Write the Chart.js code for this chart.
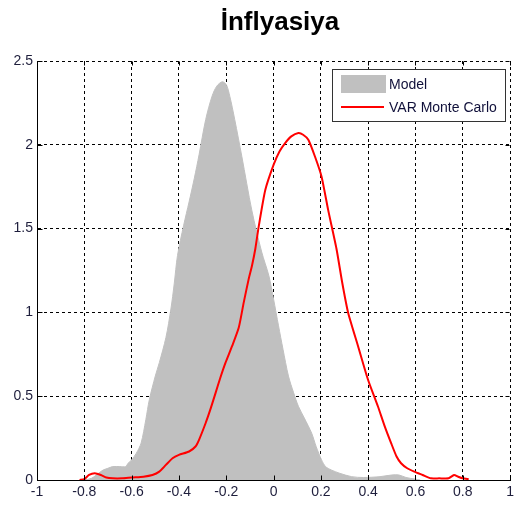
<!DOCTYPE html>
<html>
<head>
<meta charset="utf-8">
<script src="https://cdn.jsdelivr.net/npm/chart.js@4.4.1/dist/chart.umd.min.js"></script>
<style>
  html, body { margin: 0; padding: 0; background: #ffffff; }
  #c { display: block; }
</style>
</head>
<body>
<canvas id="c" width="518" height="508"></canvas>
<script>
// ---------- DATA ----------
const chartTitle = "İnflyasiya";
const seriesNames = ["Model", "VAR Monte Carlo"];

const xTickValues = [-1, -0.8, -0.6, -0.4, -0.2, 0, 0.2, 0.4, 0.6, 0.8, 1];
const xTickLabels = ["-1", "-0.8", "-0.6", "-0.4", "-0.2", "0", "0.2", "0.4", "0.6", "0.8", "1"];
const yTickValues = [0, 0.5, 1, 1.5, 2, 2.5];
const yTickLabels = ["0", "0.5", "1", "1.5", "2", "2.5"];

// Model (grey area)
const modelX = [-0.80, -0.77, -0.74, -0.72, -0.70, -0.68, -0.65, -0.625, -0.615, -0.60, -0.58, -0.56, -0.54, -0.525,
  -0.50, -0.483, -0.455, -0.434, -0.42, -0.406, -0.38, -0.357, -0.335, -0.315, -0.287, -0.26, -0.24, -0.217,
  -0.20, -0.185, -0.164, -0.134, -0.092, -0.05, -0.02, 0.0, 0.021, 0.04, 0.063, 0.085, 0.105, 0.13, 0.161,
  0.18, 0.203, 0.22, 0.244, 0.28, 0.33, 0.38, 0.45, 0.50, 0.53, 0.56, 0.60, 0.62];
const modelY = [0, 0.01, 0.04, 0.06, 0.07, 0.08, 0.08, 0.08, 0.10, 0.12, 0.16, 0.22, 0.36, 0.48,
  0.62, 0.70, 0.85, 1.02, 1.17, 1.34, 1.52, 1.66, 1.80, 1.94, 2.15, 2.29, 2.35, 2.376,
  2.36, 2.29, 2.15, 1.93, 1.61, 1.36, 1.22, 1.08, 0.92, 0.78, 0.62, 0.52, 0.44, 0.37, 0.28,
  0.20, 0.12, 0.08, 0.06, 0.04, 0.02, 0.015, 0.02, 0.03, 0.03, 0.015, 0.005, 0];

// VAR Monte Carlo (red line)
const varX = [-0.82, -0.80, -0.78, -0.756, -0.73, -0.707, -0.68, -0.64, -0.60, -0.55, -0.512, -0.483, -0.455,
  -0.427, -0.40, -0.357, -0.33, -0.315, -0.287, -0.265, -0.245, -0.225, -0.203, -0.175, -0.147, -0.126,
  -0.105, -0.091, -0.077, -0.063, -0.035, 0.0, 0.025, 0.049, 0.075, 0.105, 0.125, 0.147, 0.175, 0.203,
  0.231, 0.266, 0.29, 0.315, 0.357, 0.399, 0.441, 0.47, 0.497, 0.52, 0.539, 0.565, 0.595, 0.63, 0.665,
  0.70, 0.74, 0.763, 0.78, 0.80, 0.825];
const varY = [0, 0.005, 0.03, 0.04, 0.03, 0.015, 0.01, 0.01, 0.015, 0.02, 0.03, 0.05, 0.09,
  0.13, 0.15, 0.17, 0.20, 0.24, 0.34, 0.43, 0.52, 0.61, 0.70, 0.80, 0.91, 1.06,
  1.20, 1.28, 1.38, 1.51, 1.73, 1.88, 1.96, 2.01, 2.05, 2.07, 2.06, 2.03, 1.93, 1.81,
  1.61, 1.38, 1.18, 1.00, 0.80, 0.60, 0.44, 0.32, 0.22, 0.14, 0.10, 0.07, 0.05, 0.03, 0.01,
  0.01, 0.01, 0.03, 0.02, 0.01, 0.005];

// ---------- CHART ----------
const FONT = "'Liberation Sans', Arial, Helvetica, sans-serif";
const TICK_COLOR = "#1e1e3c";

const titlePlugin = {
  id: "titleText",
  afterDraw(chart) {
    const ctx = chart.ctx;
    ctx.save();
    ctx.fillStyle = "#000";
    ctx.font = "bold 26px " + FONT;
    ctx.textAlign = "center";
    ctx.textBaseline = "alphabetic";
    ctx.fillText(chartTitle, 280, 30);
    ctx.restore();
  }
};

const framePlugin = {
  id: "frame",
  afterDatasetsDraw(chart) {
    const { ctx, chartArea: a, scales } = chart;
    const xs = scales.x, ys = scales.y;
    ctx.save();
    ctx.strokeStyle = "#000";
    ctx.lineWidth = 1;
    ctx.setLineDash([]);
    ctx.beginPath();
    const L = Math.round(a.left) + 0.5, B = Math.round(a.bottom) + 0.5;
    const T = Math.round(a.top) + 0.5, R = Math.round(a.right) - 0.5;
    ctx.moveTo(L, T); ctx.lineTo(L, B); ctx.lineTo(R + 1, B);
    xs.ticks.forEach(t => {
      const px = Math.round(xs.getPixelForValue(t.value)) + 0.5;
      ctx.moveTo(px, B); ctx.lineTo(px, B - 5);
      ctx.moveTo(px, T); ctx.lineTo(px, T + 4);
    });
    ys.ticks.forEach(t => {
      const py = Math.round(ys.getPixelForValue(t.value)) + 0.5;
      ctx.moveTo(L, py); ctx.lineTo(L + 5, py);
      ctx.moveTo(R, py); ctx.lineTo(R - 4, py);
    });
    ctx.stroke();
    ctx.restore();
  }
};

const legendPlugin = {
  id: "boxLegend",
  afterDraw(chart) {
    const ctx = chart.ctx;
    const ds = chart.data.datasets;
    ctx.save();
    ctx.fillStyle = "#fff";
    ctx.fillRect(332, 69, 174, 53);
    ctx.strokeStyle = "#333";
    ctx.lineWidth = 1;
    ctx.strokeRect(332.5, 69.5, 173, 52);
    ctx.fillStyle = ds[0].backgroundColor;
    ctx.fillRect(341, 75, 45, 18);
    ctx.strokeStyle = ds[1].borderColor;
    ctx.lineWidth = 2;
    ctx.beginPath();
    ctx.moveTo(341, 107); ctx.lineTo(384, 107);
    ctx.stroke();
    ctx.fillStyle = "#10103a";
    ctx.font = "14px " + FONT;
    ctx.textAlign = "left";
    ctx.textBaseline = "middle";
    ctx.fillText(ds[0].label, 389, 85);
    ctx.fillText(ds[1].label, 389, 108);
    ctx.restore();
  }
};

const toPoints = (xa, ya) => xa.map((x, i) => ({ x: x, y: ya[i] }));

new Chart(document.getElementById("c"), {
  type: "scatter",
  data: {
    datasets: [
      {
        label: seriesNames[0],
        data: toPoints(modelX, modelY),
        showLine: true,
        fill: "origin",
        backgroundColor: "#c0c0c0",
        borderColor: "#c0c0c0",
        borderWidth: 1,
        pointRadius: 0,
        tension: 0.3,
        order: 2
      },
      {
        label: seriesNames[1],
        data: toPoints(varX, varY),
        showLine: true,
        fill: false,
        borderColor: "#ff0000",
        backgroundColor: "#ff0000",
        borderWidth: 2,
        pointRadius: 0,
        tension: 0.2,
        order: 1
      }
    ]
  },
  options: {
    responsive: false,
    animation: false,
    devicePixelRatio: 1,
    layout: { padding: { top: 61, right: 5, left: 0, bottom: 0 } },
    plugins: {
      legend: { display: false },
      title: { display: false },
      tooltip: { enabled: false }
    },
    scales: {
      x: {
        type: "linear",
        min: -1, max: 1,
        afterBuildTicks: s => { s.ticks = xTickValues.map(v => ({ value: v })); },
        afterFit: s => { s.height = 28; },
        ticks: {
          autoSkip: false,
          maxRotation: 0,
          padding: 4,
          color: TICK_COLOR,
          font: { family: FONT, size: 14 },
          callback: (v) => xTickLabels[xTickValues.indexOf(v)]
        },
        grid: { color: "#000", lineWidth: 1, drawTicks: false },
        border: { display: true, color: "#000", width: 1, dash: [3, 3] }
      },
      y: {
        type: "linear",
        min: 0, max: 2.5,
        afterBuildTicks: s => { s.ticks = yTickValues.map(v => ({ value: v })); },
        afterFit: s => { s.width = 37; },
        ticks: {
          autoSkip: false,
          padding: 4,
          color: TICK_COLOR,
          font: { family: FONT, size: 14 },
          callback: (v) => yTickLabels[yTickValues.indexOf(v)]
        },
        grid: { color: "#000", lineWidth: 1, drawTicks: false },
        border: { display: true, color: "#000", width: 1, dash: [3, 3] }
      }
    }
  },
  plugins: [titlePlugin, framePlugin, legendPlugin]
});
</script>
</body>
</html>
